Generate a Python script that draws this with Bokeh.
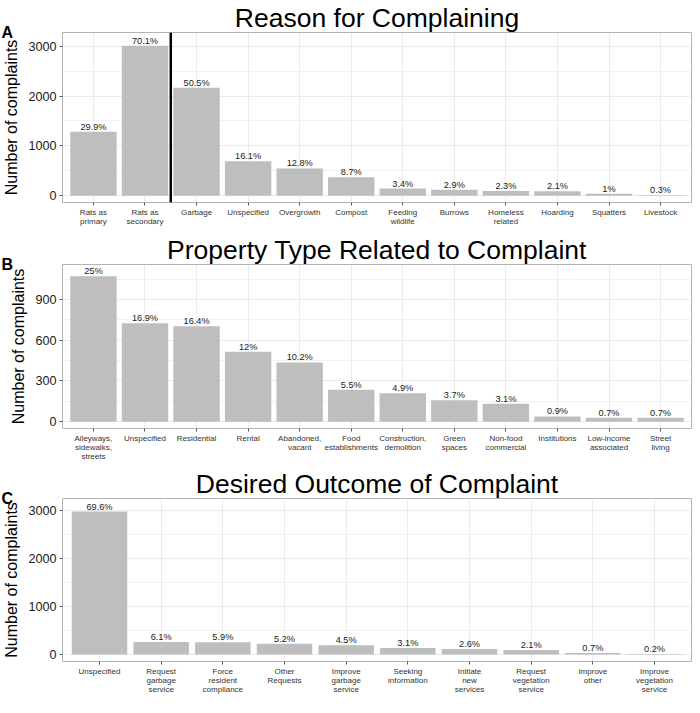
from bokeh.plotting import figure
from bokeh.layouts import column
from bokeh.models import ColumnDataSource, FactorRange, Range1d, FixedTicker, Span, Title
from bokeh.core.properties import value
from bokeh.embed import file_html
from bokeh.resources import INLINE

# ---------------- data ----------------
reason_labels = ["Rats as\nprimary", "Rats as\nsecondary", "Garbage", "Unspecified", "Overgrowth",
                 "Compost", "Feeding\nwildlife", "Burrows", "Homeless\nrelated", "Hoarding",
                 "Squatters", "Livestock"]
reason_counts = [1283, 3007, 2166, 691, 549, 373, 146, 124, 99, 90, 43, 13]
reason_pct = ["29.9%", "70.1%", "50.5%", "16.1%", "12.8%", "8.7%", "3.4%", "2.9%", "2.3%",
              "2.1%", "1%", "0.3%"]
rat_groups = 2  # number of leading "rats" categories separated by the vertical line

property_labels = ["Alleyways,\nsidewalks,\nstreets", "Unspecified", "Residential", "Rental",
                   "Abandoned,\nvacant", "Food\nestablishments", "Construction,\ndemolition",
                   "Green\nspaces", "Non-food\ncommercial", "Institutions", "Low-income\nassociated",
                   "Street\nliving"]
property_counts = [1072, 725, 703, 515, 437, 236, 210, 159, 133, 39, 30, 30]
property_pct = ["25%", "16.9%", "16.4%", "12%", "10.2%", "5.5%", "4.9%", "3.7%", "3.1%",
                "0.9%", "0.7%", "0.7%"]

outcome_labels = ["Unspecified", "Request\ngarbage\nservice", "Force\nresident\ncompliance",
                  "Other\nRequests", "Improve\ngarbage\nservice", "Seeking\ninformation",
                  "Initiate\nnew\nservices", "Request\nvegetation\nservice", "Improve\nother",
                  "Improve\nvegetation\nservice"]
outcome_counts = [2975, 261, 253, 223, 193, 133, 111, 90, 30, 9]
outcome_pct = ["69.6%", "6.1%", "5.9%", "5.2%", "4.5%", "3.1%", "2.6%", "2.1%", "0.7%", "0.2%"]

panels = [
    dict(letter="A", title="Reason for Complaining", labels=reason_labels, counts=reason_counts,
         pct=reason_pct, yr=(-134, 3274), ticks=[0, 1000, 2000, 3000], minor=[500, 1500, 2500],
         h=232, bottom=30),
    dict(letter="B", title="Property Type Related to Complaint", labels=property_labels,
         counts=property_counts, pct=property_pct, yr=(-50, 1158), ticks=[0, 300, 600, 900],
         minor=[150, 450, 750, 1050], h=234, bottom=38),
    dict(letter="C", title="Desired Outcome of Complaint", labels=outcome_labels,
         counts=outcome_counts, pct=outcome_pct, yr=(-147, 3247), ticks=[0, 1000, 2000, 3000],
         minor=[500, 1500, 2500], h=231, bottom=34),
]

FONT = "Liberation Sans"
W = 692
LEFT = 56
RIGHT = 1

figs = []
for pn in panels:
    src = ColumnDataSource(dict(x=pn["labels"], y=pn["counts"], t=pn["pct"]))
    xr = FactorRange(factors=pn["labels"], range_padding=0.1, range_padding_units="absolute")
    p = figure(x_range=xr, y_range=Range1d(*pn["yr"]), width=W, height=pn["h"],
               output_backend="svg", toolbar_location=None, title=pn["title"],
               min_border_left=LEFT, min_border_right=RIGHT, min_border_top=0,
               min_border_bottom=pn["bottom"])
    p.vbar(x="x", top="y", bottom=0, width=0.9, source=src, fill_color="#BEBEBE", line_color=None)
    p.text(x="x", y="y", text="t", source=src, text_align="center", text_baseline="bottom",
           y_offset=0, text_font_size="9.2px", text_font=value(FONT), text_color="#1a1a1a")

    p.title.align = "center"
    p.title.text_font = FONT
    p.title.text_font_size = "26.5px"
    p.title.text_font_style = "normal"
    p.title.text_color = "black"
    p.title.standoff = 0

    # panel letter: a second title sharing the same strip (zero-height panel)
    letter = Title(text=pn["letter"], align="left", vertical_align="middle", offset=-61,
                   text_font=FONT, text_font_size="16px", text_font_style="bold",
                   text_color="black")
    try:
        letter.standoff = -19
    except Exception:
        letter.standoff = 0
    p.add_layout(letter, "above")

    p.outline_line_color = "#B3B3B3"
    p.outline_line_width = 1
    p.background_fill_color = "white"

    p.yaxis.ticker = FixedTicker(ticks=pn["ticks"], minor_ticks=pn["minor"])
    p.yaxis.axis_label = "Number of complaints"
    p.yaxis.axis_label_text_font = FONT
    p.yaxis.axis_label_text_font_size = "16px"
    p.yaxis.axis_label_text_font_style = "normal"
    p.yaxis.axis_label_text_color = "black"
    p.yaxis.axis_label_standoff = 5
    p.yaxis.major_label_text_font = FONT
    p.yaxis.major_label_text_font_size = "12.6px"
    p.yaxis.major_label_text_color = "#1a1a1a"
    p.yaxis.minor_tick_line_color = None
    p.yaxis.major_label_standoff = 2

    p.xaxis.major_label_text_font = FONT
    p.xaxis.major_label_text_font_size = "8px"
    p.xaxis.major_label_text_color = "#333333"
    p.xaxis.major_label_text_line_height = 1.05
    p.xaxis.major_label_standoff = 2

    for ax in (p.xaxis, p.yaxis):
        ax.axis_line_color = None
        ax.major_tick_line_color = "#555555"
        ax.major_tick_out = 3
        ax.major_tick_in = 0

    p.xgrid.grid_line_color = "#EBEBEB"
    p.ygrid.grid_line_color = "#EBEBEB"
    p.ygrid.minor_grid_line_color = "#F2F2F2"

    if pn["letter"] == "A":
        p.add_layout(Span(location=rat_groups, dimension="height", line_color="black", line_width=2.5))
    figs.append(p)

layout = column(*figs, spacing=0)
open("out.html", "w").write(file_html(layout, INLINE))
